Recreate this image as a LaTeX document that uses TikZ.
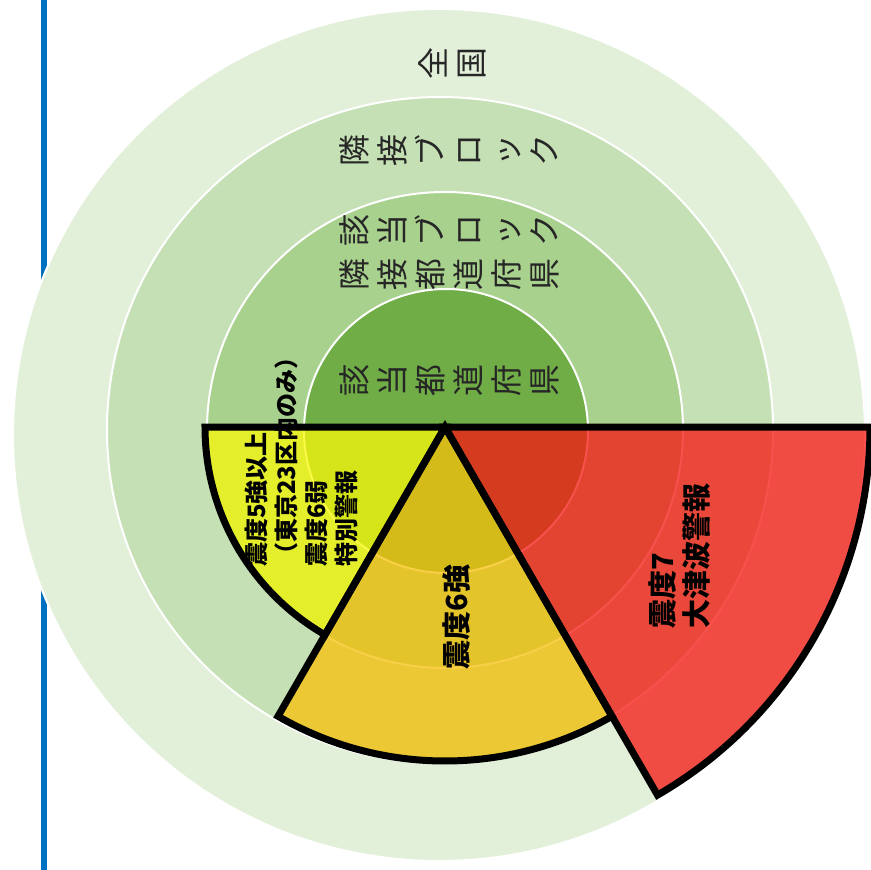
\documentclass[tikz,border=0pt]{standalone}
\usepackage{fontspec}
\newfontfamily\jpfont{Noto Sans CJK JP}
\definecolor{ring1}{HTML}{70AD47}
\definecolor{ring2}{HTML}{A9D18E}
\definecolor{ring3}{HTML}{C5E0B4}
\definecolor{ring4}{HTML}{E2F0D9}
\definecolor{lineblue}{HTML}{0070C0}
\definecolor{redfill}{RGB}{246,22,18}
\definecolor{goldfill}{RGB}{248,192,10}
\definecolor{yellowfill}{RGB}{249,248,10}
\definecolor{labelgray}{HTML}{262626}

\tikzset{
  ring/.style={draw=white, line width=2pt},
  zone/.style={fill opacity=0.75},
  zoneborder/.style={draw=black, line width=7pt, line join=miter},
  tate/.style={rotate=90, align=center, inner sep=0pt, text=labelgray,
    font=\jpfont\fontsize{32}{38}\selectfont},
  zonelabel/.style={rotate=90, align=left, inner sep=0pt,
    font=\jpfont\bfseries\fontsize{29}{34}\selectfont},
}

\begin{document}
\begin{tikzpicture}[x=1pt, y=-1pt]
  \useasboundingbox (0,0) rectangle (871,870);
  \draw[lineblue, line width=6pt] (43.5,0) -- (43.5,870);

  % concentric rings
  \path[ring, fill=ring4] (439,435) circle (426);
  \path[ring, fill=ring3] (440,430) circle (333);
  \path[ring, fill=ring2] (445,430) circle (238);
  \path[ring, fill=ring1] (446,431) circle (142);

  % ring labels
  \node[tate] (nation) at (452,63) {全\\国};
  \node[tate] (nearblock) at (449,150) {隣\\接\\ブ\\ロ\\ッ\\ク};
  \node[tate] (ownblock) at (449,230) {該\\当\\ブ\\ロ\\ッ\\ク};
  \node[tate] (nearpref) at (449,274) {隣\\接\\都\\道\\府\\県};
  \node[tate] (ownpref) at (449,380) {該\\当\\都\\道\\府\\県};

  % intensity zones
  \coordinate (apex) at (445,427);
  \fill[zone, redfill] (apex) -- ++(0:425) arc[start angle=0, end angle=60, radius=425] -- cycle;
  \fill[zone, goldfill] (apex) -- ++(60:334) arc[start angle=60, end angle=120, radius=334] -- cycle;
  \fill[zone, yellowfill] (apex) -- ++(120:240) arc[start angle=120, end angle=180, radius=240] -- cycle;

  \node[zonelabel] (shindo7) at (680,556) {震度7\\大津波警報};
  \node[zonelabel] (shindo6s) at (457,617) {震度6強};
  \node[zonelabel, font=\jpfont\bfseries\fontsize{24}{30}\selectfont] (shindo5s) at (301,456)
    {震度5強以上\\（東京23区内のみ）\\震度6弱\\特別警報};

  \draw[zoneborder] (apex) -- ++(0:425) arc[start angle=0, end angle=60, radius=425] -- cycle;
  \draw[zoneborder] (apex) -- ++(60:334) arc[start angle=60, end angle=120, radius=334] -- cycle;
  \draw[zoneborder] (apex) -- ++(120:240) arc[start angle=120, end angle=180, radius=240] -- cycle;
\end{tikzpicture}
\end{document}
